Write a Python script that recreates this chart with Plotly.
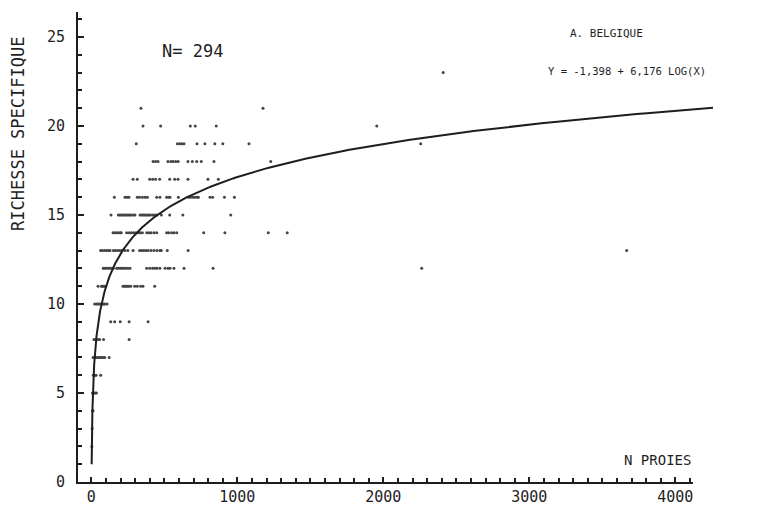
import numpy as np
import plotly.graph_objects as go

# ---- data (species richness vs number of prey) ----
rows = {
    23: [2410],
    21: [340, 1176],
    20: [354, 475, 678, 712, 856, 1955],
    19: [308, 590, 605, 620, 635, 724, 778, 846, 901, 1080, 2256],
    18: [423, 440, 457, 525, 545, 560, 578, 595, 662, 692, 722, 753, 840, 1229],
    17: [286, 315, 400, 420, 440, 468, 537, 571, 594, 662, 799, 870],
    16: [158, 231, 245, 258, 315, 330, 350, 368, 384, 448, 470, 516, 530, 539,
         596, 665, 680, 695, 710, 725, 733, 813, 831, 912, 980],
    15: [135, 185, 195, 205, 215, 225, 235, 245, 255, 265, 275, 290, 299, 334,
         345, 355, 365, 375, 385, 395, 405, 420, 435, 448, 480, 537, 627, 955],
    14: [149, 160, 172, 185, 198, 205, 242, 260, 275, 290, 305, 320, 335, 350,
         380, 395, 410, 430, 448, 516, 530, 550, 566, 585, 770, 915, 1212, 1342],
    13: [64, 75, 90, 105, 118, 128, 151, 165, 180, 195, 210, 231, 250, 286, 331,
         345, 360, 375, 390, 410, 430, 450, 470, 479, 520, 663, 3667],
    12: [82, 92, 105, 118, 130, 142, 151, 174, 185, 198, 210, 222, 235, 250, 265,
         379, 400, 420, 435, 450, 470, 505, 525, 539, 566, 635, 834, 2263],
    11: [46, 69, 76, 84, 92, 217, 227, 237, 247, 257, 270, 297, 315, 338, 354, 434],
    10: [23, 35, 45, 55, 65, 75, 85, 92, 108],
    9: [133, 160, 198, 259, 389],
    8: [18, 30, 45, 57, 84, 259],
    7: [12, 22, 32, 42, 52, 62, 72, 82, 92, 122],
    6: [14, 24, 33, 64],
    5: [8, 18, 28, 35],
    4: [8, 12],
    3: [6],
    2: [4],
}
n_proies = [x for y, xs in rows.items() for x in xs]
richesse = [y for y, xs in rows.items() for x in xs]

# regression printed on the chart: Y = -1,398 + 6,176 LOG(X)
coef_a = -1.398
coef_b = 6.176
curve_x = np.geomspace(2.44, 4258, 400)
curve_y = coef_a + coef_b * np.log10(curve_x)

x_ticks = [0, 1000, 2000, 3000, 4000]
x_ticktext = ["0", "1000", "2000", "3000", "4000"]
y_ticks = [0, 5, 10, 15, 20, 25]

FONT = "DejaVu Sans Mono"
INK = "#1e1e1e"

W, H = 772, 505
ml, mr, mt, mb = 78, 52, 12, 23
pw, ph = W - ml - mr, H - mt - mb
x_lo, x_hi = -91.1, 4306
x_axis_end = 4120
dom2 = (x_axis_end - x_lo) / (x_hi - x_lo)

fig = go.Figure()
fig.add_trace(go.Scatter(x=n_proies, y=richesse, mode="markers",
                         marker=dict(size=3, color="#444444"),
                         hoverinfo="x+y", showlegend=False))
fig.add_trace(go.Scatter(x=curve_x, y=curve_y, mode="lines",
                         line=dict(color=INK, width=2), showlegend=False))
# empty trace so that the visible (shorter) x axis is drawn
fig.add_trace(go.Scatter(x=[None], y=[None], xaxis="x2", yaxis="y",
                         mode="markers", showlegend=False, hoverinfo="skip"))

fig.update_layout(
    width=W, height=H,
    margin=dict(l=ml, r=mr, t=mt, b=mb),
    paper_bgcolor="white", plot_bgcolor="rgba(0,0,0,0)",
    font=dict(family=FONT, color=INK),
    xaxis=dict(range=[x_lo, x_hi], showline=False, showgrid=False,
               zeroline=False, showticklabels=False, ticks="",
               automargin=False),
    xaxis2=dict(range=[x_lo, x_axis_end], domain=[0, dom2], anchor="y",
                showline=True, linecolor=INK, linewidth=2,
                showgrid=False, zeroline=False, automargin=False,
                tickmode="array", tickvals=x_ticks, ticktext=x_ticktext,
                ticks="inside", ticklen=5, tickwidth=1.5, tickcolor=INK,
                minor=dict(ticks="inside", dtick=100, tick0=0, ticklen=4,
                           tickwidth=1.5, tickcolor=INK, showgrid=False),
                tickfont=dict(family=FONT, size=15, color=INK)),
    yaxis=dict(range=[0, 26.4], showline=True, linecolor=INK, linewidth=2,
               showgrid=False, zeroline=False, automargin=False,
               tickmode="array", tickvals=y_ticks,
               ticks="inside", ticklen=6, tickwidth=1.5, tickcolor=INK,
               minor=dict(ticks="inside", dtick=1, tick0=0, ticklen=4,
                          tickwidth=1.5, tickcolor=INK, showgrid=False),
               tickfont=dict(family=FONT, size=15, color=INK),
               ticklabelstandoff=8),
)

ann = dict(showarrow=False, xref="x", yref="y")
fig.add_annotation(x=690, y=24.2, text="N= 294",
                   font=dict(family=FONT, size=17, color=INK), **ann)
fig.add_annotation(x=3531, y=25.2, text="A. BELGIQUE",
                   font=dict(family=FONT, size=11, color=INK), **ann)
fig.add_annotation(x=3668, y=23.1, text="Y = -1,398 + 6,176 LOG(X)",
                   font=dict(family=FONT, size=10.5, color=INK), **ann)
fig.add_annotation(x=3875, y=1.24, text="N PROIES",
                   font=dict(family=FONT, size=14, color=INK), **ann)
fig.add_annotation(x=(18 - ml) / pw, y=(H - mb - 134) / ph,
                   xref="paper", yref="paper", xanchor="center",
                   yanchor="middle",
                   text="RICHESSE SPECIFIQUE", textangle=-90, showarrow=False,
                   font=dict(family=FONT, size=17, color=INK))

fig.write_html("out.html", config={"displayModeBar": False},
               post_script="document.body.style.margin='0';"
                           "document.body.style.padding='0';")
